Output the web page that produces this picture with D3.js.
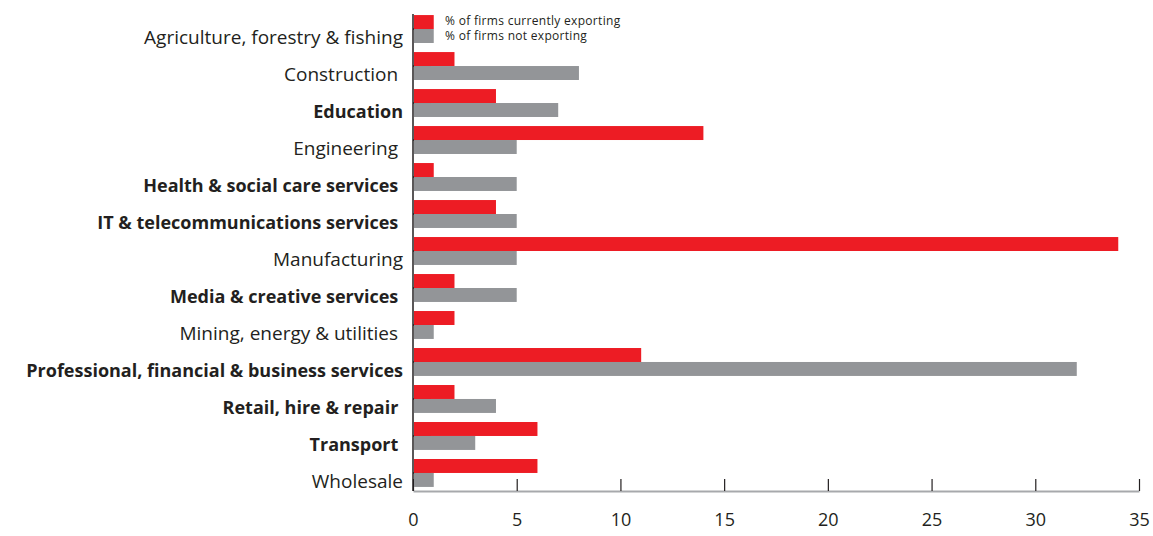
<!DOCTYPE html>
<html>
<head>
<meta charset="utf-8">
<script src="https://cdn.jsdelivr.net/npm/d3@7"></script>
<style>
  body { margin: 0; background: #fff; }
  text { font-family: "Open Sans", sans-serif; fill: #231f20; }
</style>
</head>
<body>
<div class="chart"></div>
<script>
//sectors, top to bottom (trailing space kept as in the original labels)
var sectors = ["Agriculture, forestry & fishing", "Construction\u00a0", "Education",
  "Engineering\u00a0", "Health & social care services\u00a0", "IT & telecommunications services\u00a0",
  "Manufacturing", "Media & creative services\u00a0", "Mining, energy & utilities\u00a0",
  "Professional, financial & business services", "Retail, hire & repair\u00a0", "Transport\u00a0",
  "Wholesale"];

//sectors written in bold
var boldSectors = ["Education", "Health & social care services\u00a0", "IT & telecommunications services\u00a0",
  "Media & creative services\u00a0", "Professional, financial & business services",
  "Retail, hire & repair\u00a0", "Transport\u00a0"];

//percentages
var exporting = [1, 2, 4, 14, 1, 4, 34, 2, 2, 11, 2, 6, 6];
var notExporting = [1, 8, 7, 5, 5, 5, 5, 5, 1, 32, 4, 3, 1];

var seriesNames = ["% of firms currently exporting", "% of firms not exporting"];
var seriesColours = ["#ed1c24", "#939598"];
var xTicks = [0, 5, 10, 15, 20, 25, 30, 35];

var width = 1153, height = 536;

var svg = d3.select(".chart").append("svg")
  .attr("width", width)
  .attr("height", height);

//x scale, 0 sits on the y axis line
var x = d3.scaleLinear().domain([0, 35]).range([413, 1139]);

//one band per sector, split in two for the series
var y = d3.scaleBand().domain(sectors).range([6, 496]).padding(0.245);
var ySeries = d3.scaleBand().domain([0, 1]).range([0, y.bandwidth()]);

var rows = sectors.map(function(s, i) {
  return { sector: s, values: [exporting[i], notExporting[i]] };
});

//x axis at the bottom
var xAxis = svg.append("g")
  .attr("transform", "translate(0,491)")
  .call(d3.axisBottom(x).tickValues(xTicks).tickSizeInner(-12).tickSizeOuter(0).tickPadding(22));
xAxis.select(".domain").attr("stroke", "#a7a9ac").attr("stroke-width", 2);
xAxis.selectAll(".tick line").attr("stroke", "#231f20").attr("stroke-width", 1.2);
xAxis.selectAll(".tick text")
  .style("font-size", "18px")
  .attr("fill", "#231f20");

//y axis line
svg.append("line")
  .attr("x1", x(0)).attr("x2", x(0))
  .attr("y1", 14).attr("y2", 491)
  .attr("stroke", "#231f20")
  .attr("stroke-width", 1.5);

var groups = svg.selectAll(".row")
  .data(rows)
  .enter()
  .append("g")
  .attr("class", "row")
  .attr("transform", function(d) { return "translate(0," + y(d.sector) + ")"; });

//small inward ticks between the pair of bars
groups.append("line")
  .attr("x1", x(0)).attr("x2", x(0) + 18)
  .attr("y1", ySeries(1)).attr("y2", ySeries(1))
  .attr("stroke", "#231f20")
  .attr("stroke-width", 1.5);

groups.selectAll("rect")
  .data(function(d) { return d.values; })
  .enter()
  .append("rect")
  .attr("x", x(0) + 1)
  .attr("y", function(v, i) { return ySeries(i); })
  .attr("width", function(v) { return x(v) - x(0) - 1; })
  .attr("height", ySeries.bandwidth())
  .attr("fill", function(v, i) { return seriesColours[i]; });

//sector labels
groups.append("text")
  .attr("x", 403)
  .attr("y", y.bandwidth() + 1)
  .attr("text-anchor", "end")
  .style("white-space", "pre")
  .style("font-size", function(d) { return boldSectors.indexOf(d.sector) >= 0 ? "18px" : "19px"; })
  .style("font-weight", function(d) { return boldSectors.indexOf(d.sector) >= 0 ? "bold" : "normal"; })
  .text(function(d) { return d.sector; });

//legend text, sits beside the first pair of bars
svg.selectAll(".legend")
  .data(seriesNames)
  .enter()
  .append("text")
  .attr("class", "legend")
  .attr("x", 445)
  .attr("y", function(d, i) { return 25 + i * 15; })
  .style("font-size", "12px")
  .style("letter-spacing", "0.3px")
  .text(function(d) { return d; });
</script>
</body>
</html>
